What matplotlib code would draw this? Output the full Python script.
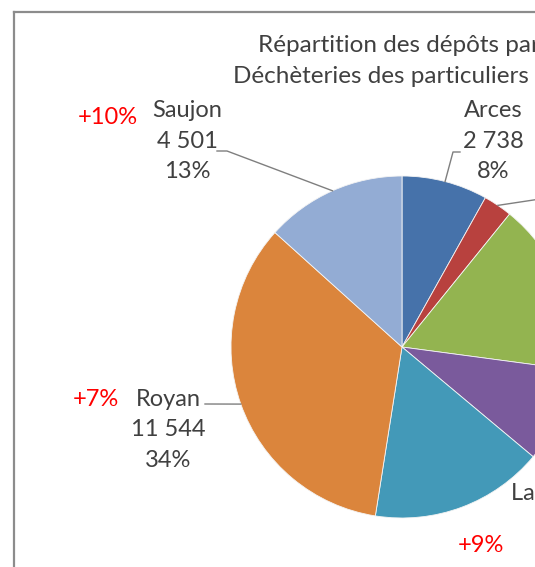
# -*- coding: utf-8 -*-

import numpy as np
import matplotlib
matplotlib.use("Agg")
import matplotlib.pyplot as plt
from matplotlib.lines import Line2D


########################################################################################################################
# données (tonnes)
communes = ['Arces', 'Cozes', 'Saint-Georges', 'Meschers', 'La Tremblade', 'Royan', 'Saujon']
tonnages = [2738, 920, 5500, 3030, 5540, 11544, 4501]
couleurs = ['#4672AA', '#B8413E', '#93B450', '#7A5A9C', '#4399B8', '#DB853C', '#93ACD4']
evolutions = {'Saujon': '+10%', 'Royan': '+7%', 'La Tremblade': '+9%'}

titre_l1 = 'Répartition des dépôts par déchèterie'
titre_l2 = 'Déchèteries des particuliers en 2013'

total = sum(tonnages)
W, H = 535, 567
cx, cy, R = 402, 347, 171   # centre et rayon du camembert (pixels)
FS = 17


def fmt(v):
    return '{:,}'.format(v).replace(',', ' ')


########################################################################################################################
# figure
plt.rcParams['font.family'] = ['Lato', 'DejaVu Sans']
fig = plt.figure(figsize=(W / 100, H / 100), dpi=100)
fig.patch.set_facecolor('white')

ax = fig.add_axes([(cx - R) / W, (H - cy - R) / H, 2 * R / W, 2 * R / H])

wedges, _ = ax.pie(tonnages, colors=couleurs, startangle=90, counterclock=False, radius=1,
                   wedgeprops=dict(edgecolor='#f4f4f4', linewidth=0.6))
ax.set_aspect('auto')
ax.set_xlim(-1, 1)
ax.set_ylim(-1, 1)
ax.axis('off')


def px(x, y):
    # pixels -> coordonnées du camembert
    return (x - cx) / R, (cy - y) / R


def bord(i):
    a = np.deg2rad((wedges[i].theta1 + wedges[i].theta2) / 2)
    return np.cos(a), np.sin(a)


def label(i):
    v = tonnages[i]
    return '%s\n%s\n%d%%' % (communes[i], fmt(v), round(100 * v / total))


txt = dict(color='#404040', fontsize=FS, ha='center', va='center', linespacing=1.55, clip_on=False)
red = dict(color='red', fontsize=FS, ha='center', va='center', clip_on=False)
lead = dict(color='#7f7f7f', lw=1.0, clip_on=False)

# labels visibles : (commune, centre du label, coude du trait, fin du trait)
labels = [
    ('Saujon', px(187, 141), px(227, 151), px(217, 151)),
    ('Arces', px(493, 141), px(453, 152), px(460, 152)),
    ('Royan', px(168, 430), px(205, 404), px(205, 404)),
]
for nom, pos, coude, fin in labels:
    i = communes.index(nom)
    ax.text(pos[0], pos[1], label(i), **txt)
    bx, by = bord(i)
    ax.plot([bx, coude[0], fin[0]], [by, coude[1], fin[1]], **lead)

# petit secteur rouge : trait vers la droite (label hors champ)
bx, by = bord(1)
e = px(560, 196)
ax.plot([bx, e[0]], [by, e[1]], **lead)

# La Tremblade (coupé) : bord gauche de la 1re ligne à x=511
i = communes.index('La Tremblade')
p = px(560, 524)
t_la = ax.text(p[0], p[1], label(i), **txt)
fig.canvas.draw()
bb = t_la.get_window_extent()
t_la.set_position((p[0] + (511 - bb.x0) / R, p[1]))

# évolutions en rouge
for nom, (x, y) in zip(['Saujon', 'Royan', 'La Tremblade'], [(108, 118), (96, 399), (481, 545)]):
    q = px(x, y)
    ax.text(q[0], q[1], evolutions[nom], **red)

# titre
fig.text(258 / W, 1 - 45 / H, titre_l1, color='#404040', fontsize=17.5, ha='left', va='center')
fig.text(233 / W, 1 - 77 / H, titre_l2, color='#404040', fontsize=17.5, ha='left', va='center')

# cadre du graphique
fig.add_artist(Line2D([14 / W, 14 / W], [0, 1 - 12 / H], color='#8c8c8c', lw=1.6))
fig.add_artist(Line2D([14 / W, 1], [1 - 12 / H, 1 - 12 / H], color='#8c8c8c', lw=1.6))

fig.savefig('out.png', dpi=100, facecolor='white')
